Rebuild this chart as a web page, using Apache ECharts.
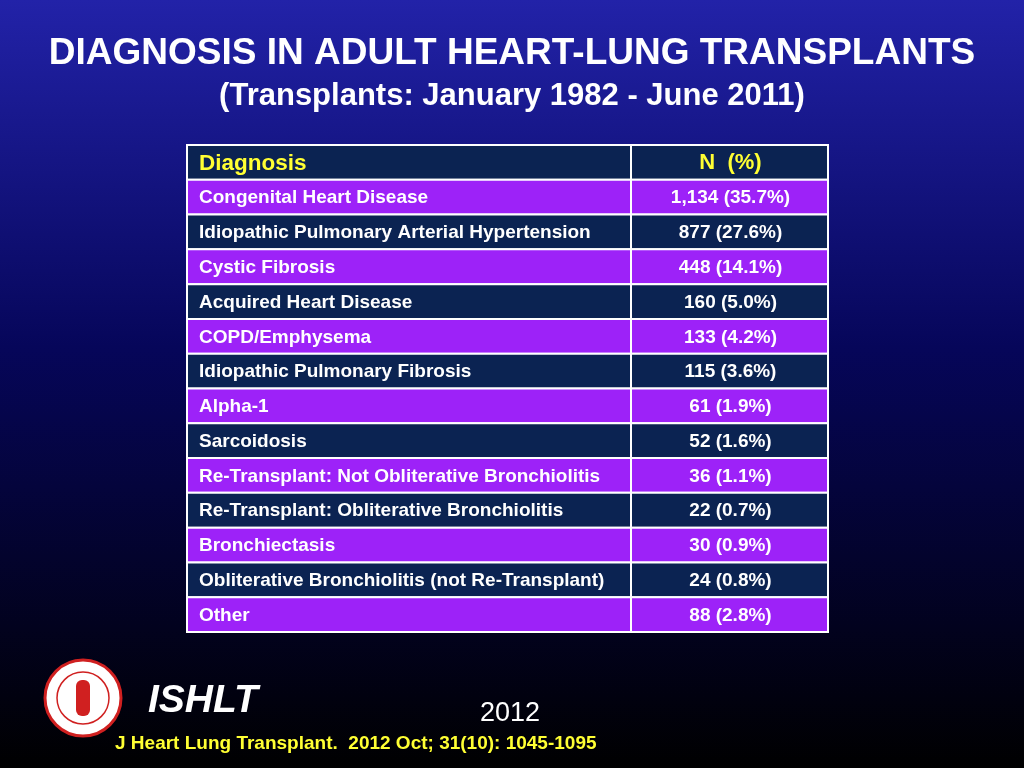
<!DOCTYPE html>
<html><head><meta charset="utf-8">
<script src="https://cdn.jsdelivr.net/npm/echarts@6/dist/echarts.min.js"></script>
<style>html,body{margin:0;padding:0}#c{width:1024px;height:768px}</style>
</head><body><div id="c"></div>
<script>
const diagnoses = ['Congenital Heart Disease', 'Idiopathic Pulmonary Arterial Hypertension', 'Cystic Fibrosis',
  'Acquired Heart Disease', 'COPD/Emphysema', 'Idiopathic Pulmonary Fibrosis', 'Alpha-1', 'Sarcoidosis',
  'Re-Transplant: Not Obliterative Bronchiolitis', 'Re-Transplant: Obliterative Bronchiolitis',
  'Bronchiectasis', 'Obliterative Bronchiolitis (not Re-Transplant)', 'Other'];
const counts = ['1,134', '877', '448', '160', '133', '115', '61', '52', '36', '22', '30', '24', '88'];
const percents = ['35.7%', '27.6%', '14.1%', '5.0%', '4.2%', '3.6%', '1.9%', '1.6%', '1.1%', '0.7%', '0.9%', '0.8%', '2.8%'];
const headers = ['Diagnosis', 'N  (%)'];

const rows = [headers[0]].concat(diagnoses);
const rowData = rows.map((r, i) => [i]);

function renderRow(params, api) {
  const i = api.value(0);
  const c = api.coord([0, i]);
  const h = api.size([0, 1])[1];
  const x0 = params.coordSys.x, w = params.coordSys.width;
  const split = 444;
  const top = c[1] - h / 2;
  const fill = i % 2 === 1 ? '#9d22f8' : '#0b2352';
  const left = i === 0 ? headers[0] : diagnoses[i - 1];
  const right = i === 0 ? headers[1] : counts[i - 1] + ' (' + percents[i - 1] + ')';
  const head = i === 0;
  const font = '"Liberation Sans", Arial, sans-serif';
  return {
    type: 'group',
    children: [
      { type: 'rect', shape: { x: x0, y: top, width: split, height: h },
        style: { fill, stroke: '#fff', lineWidth: 2 } },
      { type: 'rect', shape: { x: x0 + split, y: top, width: w - split, height: h },
        style: { fill, stroke: '#fff', lineWidth: 2 } },
      { type: 'text', style: { x: x0 + 12, y: c[1] + 1, text: left, fill: head ? '#ffff33' : '#fff',
        font: 'bold ' + (head ? 22.5 : 19) + 'px ' + font, verticalAlign: 'middle' } },
      { type: 'text', style: { x: x0 + split + (w - split) / 2 + 1, y: c[1] + 1, text: right, fill: head ? '#ffff33' : '#fff',
        font: 'bold ' + (head ? 22 : 19) + 'px ' + font, align: 'center', verticalAlign: 'middle' } }
    ]
  };
}

const chart = echarts.init(document.getElementById('c'));
chart.setOption({
  backgroundColor: { type: 'linear', x: 0, y: 0, x2: 0, y2: 1, colorStops: [
    { offset: 0, color: '#2222a8' }, { offset: 0.45, color: '#06065a' }, { offset: 1, color: '#000000' }] },
  title: [
    { text: 'DIAGNOSIS IN ADULT HEART-LUNG TRANSPLANTS', left: 'center', top: 30,
      textStyle: { color: '#fff', fontSize: 37, fontWeight: 'bold', fontFamily: 'Liberation Sans' } },
    { text: '(Transplants: January 1982 - June 2011)', left: 'center', top: 76,
      textStyle: { color: '#fff', fontSize: 31, fontWeight: 'bold', fontFamily: 'Liberation Sans' } }
  ],
  grid: { left: 187, top: 145, width: 641, height: 487 },
  xAxis: { type: 'value', min: 0, max: 1, show: false },
  yAxis: { type: 'category', data: rows, inverse: true, show: false },
  series: [{ type: 'custom', renderItem: renderRow, data: rowData, silent: true }],
  graphic: [
    { type: 'circle', shape: { cx: 83, cy: 698, r: 38 }, style: { fill: '#fff', stroke: '#d02020', lineWidth: 3 } },
    { type: 'circle', shape: { cx: 83, cy: 698, r: 26 }, style: { fill: 'none', stroke: '#d02020', lineWidth: 1.5 } },
    { type: 'rect', shape: { x: 76, y: 680, width: 14, height: 36, r: 6 }, style: { fill: '#d02020' } },
    { type: 'text', left: 148, top: 682, style: { text: 'ISHLT', fill: '#fff',
      font: 'italic bold 39px "Liberation Sans", Arial' } },
    { type: 'text', left: 480, top: 700, style: { text: '2012', fill: '#fff',
      font: '27px "Liberation Sans", Arial' } },
    { type: 'text', left: 115, top: 734, style: { text: 'J Heart Lung Transplant.  2012 Oct; 31(10): 1045-1095', fill: '#ffff33',
      font: 'bold 19px "Liberation Sans", Arial' } }
  ]
});
</script></body></html>
